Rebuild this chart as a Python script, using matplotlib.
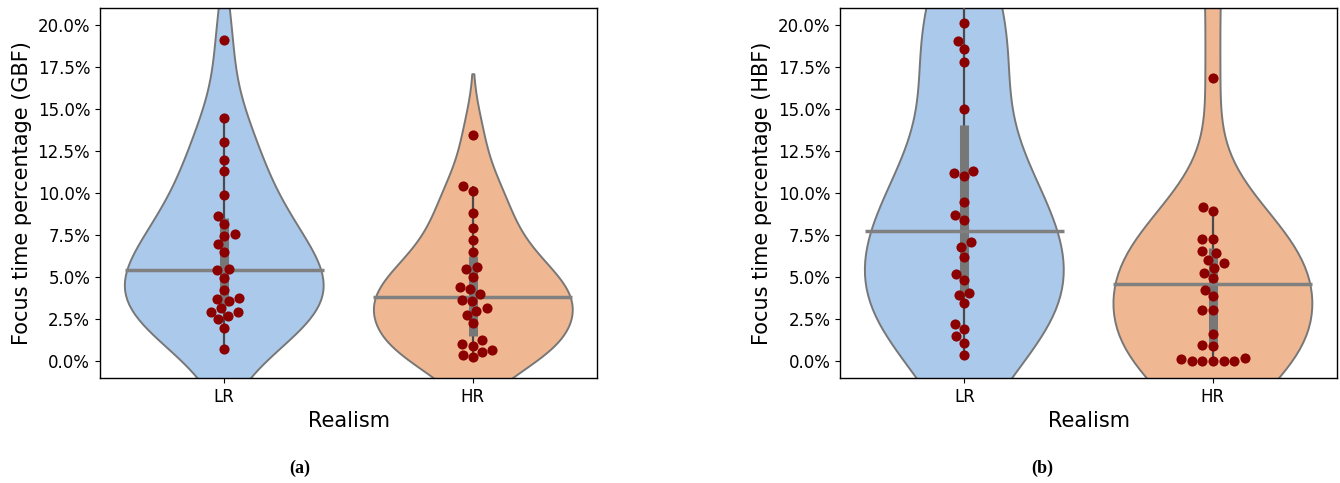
import numpy as np
import pandas as pd
import matplotlib
matplotlib.use("Agg")
import matplotlib.pyplot as plt
from matplotlib.ticker import PercentFormatter
import seaborn as sns

categories = ["LR", "HR"]

# Focus time percentage per participant, gaze-based focus (GBF)
gbf_lr = [19.1, 14.44, 13.05, 11.97, 11.31, 9.89, 8.66, 8.16, 7.57, 7.45, 6.98,
          6.50, 5.4, 5.5, 4.95, 4.26, 3.72, 3.57, 3.77, 3.17, 2.91, 2.95, 2.71,
          2.48, 2.0, 0.75]
gbf_hr = [13.45, 10.40, 10.14, 8.79, 7.92, 7.19, 6.50, 5.49, 5.59, 5.01, 4.32,
          4.40, 4.02, 3.57, 3.61, 3.17, 3.01, 2.77, 2.28, 1.03, 1.23, 0.89, 0.38,
          0.56, 0.68, 0.22]

# Focus time percentage per participant, head-based focus (HBF)
hbf_lr = [22.5, 26.0, 20.1, 19.06, 18.58, 17.79, 14.97, 11.31, 11.17, 10.99, 9.49,
          8.72, 8.42, 7.07, 6.80, 6.22, 5.21, 4.85, 4.06, 3.94, 3.43, 2.24, 1.94,
          1.49, 1.09, 0.36]
hbf_hr = [23.0, 28.0, 16.82, 9.15, 8.91, 7.29, 7.27, 6.56, 6.44, 6.04, 5.81, 5.55,
          5.25, 4.95, 4.26, 3.86, 3.07, 3.07, 1.59, 0.95, 0.89, 0.16, 0.04, 0.04,
          0.04, 0.04, 0.04, 0.12]

y_labels = ["Focus time percentage (GBF)", "Focus time percentage (HBF)"]
captions = ["(a)", "(b)"]
y_ticks = [0, 2.5, 5, 7.5, 10, 12.5, 15, 17.5, 20]

violin_colors = {"LR": "#abc9eb", "HR": "#f0b892"}
# kernel bandwidth multipliers per panel and category
bw_adjust = [{"LR": 1.15, "HR": 1.0}, {"LR": 1.0, "HR": 0.9}]


def long_frame(lr, hr):
    return pd.DataFrame({
        "Realism": ["LR"] * len(lr) + ["HR"] * len(hr),
        "value": list(lr) + list(hr),
    })


def draw_violin(ax, sub, cat, adj):
    kw = dict(data=sub, x="Realism", y="value", order=categories,
              color=violin_colors[cat], inner=None, linewidth=1.4,
              saturation=1, ax=ax)
    try:
        sns.violinplot(density_norm="width", bw_adjust=adj,
                       linecolor="#777777", **kw)
    except TypeError:
        sns.violinplot(scale="width", **kw)


fig = plt.figure(figsize=(13.4, 4.83), dpi=100)
ax_a = fig.add_axes([0.0746, 0.2174, 0.371, 0.766])
ax_b = fig.add_axes([0.6269, 0.2174, 0.371, 0.766])

panels = [(ax_a, gbf_lr, gbf_hr), (ax_b, hbf_lr, hbf_hr)]

for i, (ax, lr, hr) in enumerate(panels):
    df = long_frame(lr, hr)
    for cat in categories:
        draw_violin(ax, df[df["Realism"] == cat], cat, bw_adjust[i][cat])

    # inner box with whiskers, then the median bar across the category
    for pos, vals in enumerate([lr, hr]):
        v = np.asarray(vals)
        q1, med, q3 = np.percentile(v, [25, 50, 75])
        iqr = q3 - q1
        lo = v[v >= q1 - 1.5 * iqr].min()
        hi = v[v <= q3 + 1.5 * iqr].max()
        ax.plot([pos, pos], [lo, hi], color="#4a4a4a", lw=1.6, zorder=3,
                solid_capstyle="butt")
        ax.plot([pos, pos], [q1, q3], color="#777777", lw=6.5, zorder=3,
                solid_capstyle="butt")
        ax.plot([pos - 0.4, pos + 0.4], [med, med], color="#808080", lw=2.5,
                zorder=4, solid_capstyle="butt")

    sns.swarmplot(data=df, x="Realism", y="value", order=categories,
                  color="darkred", size=7.3, ax=ax, zorder=5)

    ax.set_xlim(-0.5, 1.5)
    ax.set_ylim(-1.0, 21.0)
    ax.set_yticks(y_ticks)
    ax.yaxis.set_major_formatter(PercentFormatter(xmax=100, decimals=1))
    ax.tick_params(axis="both", labelsize=12)
    ax.set_xlabel("Realism", fontsize=15)
    ax.set_ylabel(y_labels[i], fontsize=15)
    for sp in ax.spines.values():
        sp.set_color("black")
        sp.set_linewidth(1.0)

fig.text(0.224, 0.031, captions[0], ha="center", va="center",
         family="Liberation Serif", weight="bold", fontsize=13)
fig.text(0.778, 0.031, captions[1], ha="center", va="center",
         family="Liberation Serif", weight="bold", fontsize=13)

fig.savefig("out.png", dpi=100)
